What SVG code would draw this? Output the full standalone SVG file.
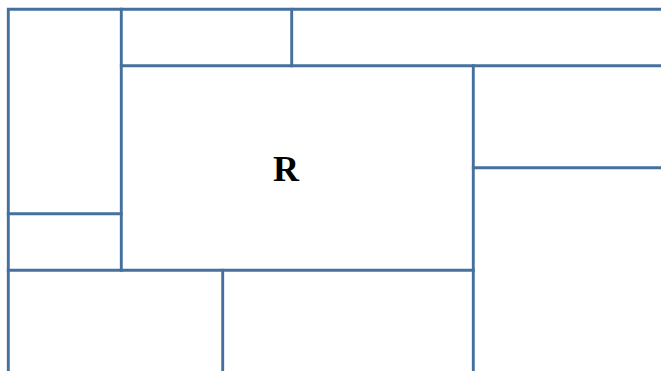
<svg xmlns="http://www.w3.org/2000/svg" width="661" height="371" viewBox="0 0 661 371">
<style>
.l{stroke:#46709e;stroke-width:2.9;fill:none;stroke-linecap:square}
.t{font-family:"Liberation Serif",serif;font-weight:bold;font-size:36px;fill:#000}
</style>
<rect width="661" height="371" fill="#fff"/>
<g id="connectors">
<path class="l" d="M8.3,371 V9.3 H661"/>
<path class="l" d="M121.3,9.3 V270.3"/>
<path class="l" d="M291.7,9.3 V65.8"/>
<path class="l" d="M121.3,65.8 H661"/>
<path class="l" d="M473.3,65.8 V371"/>
<path class="l" d="M473.3,167.8 H661"/>
<path class="l" d="M8.3,213.7 H121.3"/>
<path class="l" d="M8.3,270.3 H473.3"/>
<path class="l" d="M222.7,270.3 V371"/>
</g>
<g id="R"><text class="t" x="286" y="181" text-anchor="middle">R</text></g>
</svg>
